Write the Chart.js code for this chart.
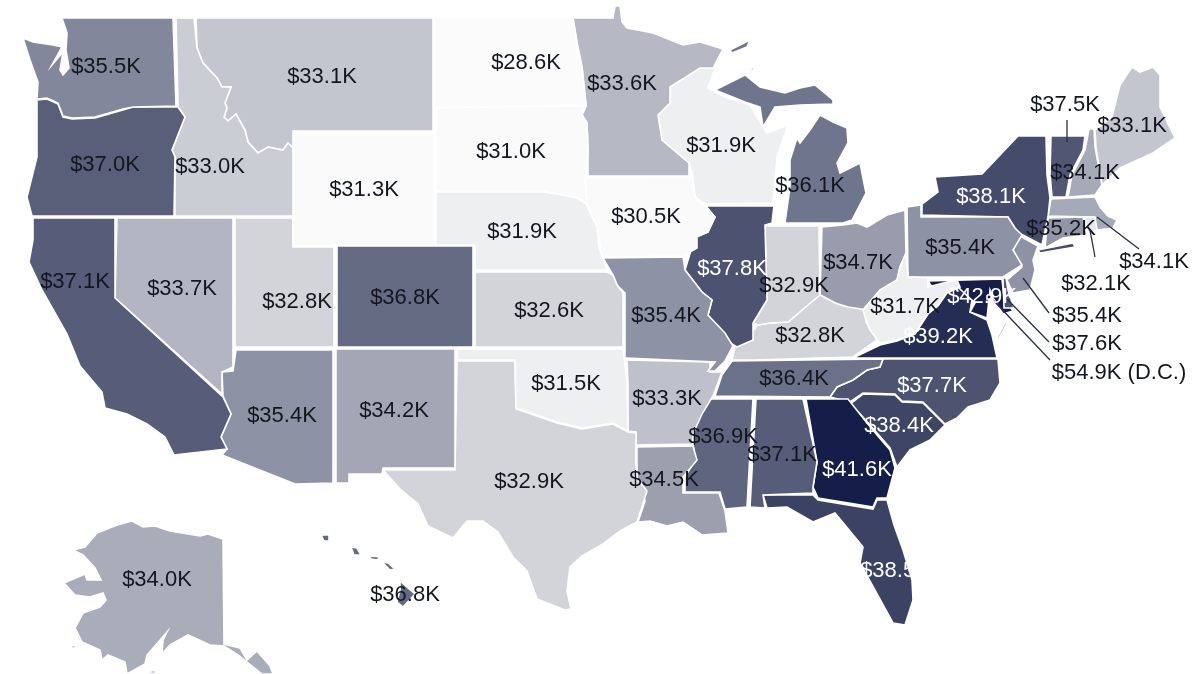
<!DOCTYPE html>
<html>
<head>
<meta charset="utf-8">
<title>Average pay by state</title>
<script src="https://cdn.jsdelivr.net/npm/chart.js@4"></script>
<style>
    html, body { margin: 0; padding: 0; background: #fff; }
    canvas { display: block; }
</style>
</head>
<body>
<canvas id="mapChart" width="1200" height="674"></canvas>
<script>
// state values, in $K
const stateCodes = ['WA','OR','CA','NV','ID','MT','WY','UT','AZ','CO','NM','ND','SD','NE','KS','OK','TX','MN','IA','MO','AR','LA','WI','IL','MI','IN','KY','TN','MS','AL','GA','FL','SC','NC','VA','WV','MD','DC','DE','PA','NJ','NY','CT','RI','MA','VT','NH','ME','OH','AK','HI'];
const stateValues = [35.5,37.0,37.1,33.7,33.0,33.1,31.3,32.8,35.4,36.8,34.2,28.6,31.0,31.9,32.6,31.5,32.9,33.6,30.5,35.4,33.3,34.5,31.9,37.8,36.1,32.9,32.8,36.4,36.9,37.1,41.6,38.5,38.4,37.7,39.2,31.7,42.9,54.9,37.6,35.4,35.4,38.1,35.2,32.1,34.1,37.5,34.1,33.1,34.7,34.0,36.8];

// colour ramp
const rampValues = [28.6,31.3,31.5,31.9,32.6,32.9,33.1,33.7,34.0,34.5,35.4,35.5,36.1,36.8,37.0,37.8,38.4,39.2,41.6,54.9];
const rampColors = ['#fbfbfb','#fafafa','#eeeff1','#eeeff1','#d2d4da','#d2d4da','#c3c6cf','#b3b6c2','#a9adba','#9b9fae','#8e92a5','#82879c','#6f758c','#656b83','#595e79','#4c526f','#3f4565','#252d54','#151d49','#101840'];

// where each label sits on the map
const labelSpots = {
    WA:[106,67], OR:[105,165], CA:[75,282], NV:[182,289], ID:[210,167], MT:[322,77], WY:[364,190], UT:[297,302], AZ:[282,416], CO:[405,298],
    NM:[394,411], ND:[526,63], SD:[511,152], NE:[522,232], KS:[549,311], OK:[566,384], TX:[529,482], MN:[622,84], IA:[646,217], MO:[666,316],
    AR:[667,399], LA:[664,480], WI:[721,146], IL:[732,269], MI:[810,186], IN:[794,286], KY:[810,336], TN:[794,379], MS:[723,437], AL:[782,455],
    GA:[857,470], FL:[895,571], SC:[899,426], NC:[932,386], VA:[938,337], WV:[905,307], MD:[982,297], DC:[1119,373], DE:[1087,344], PA:[960,248],
    NJ:[1087,316], NY:[991,197], CT:[1061,229], RI:[1096,284], MA:[1154,262], VT:[1065,105], NH:[1085,173], ME:[1132,126], OH:[858,263], AK:[157,580], HI:[405,595]
};

// leader lines from small states out to their labels
const leaders = [
    [[1067,120],[1067,142]],
    [[1090,230],[1095,257]],
    [[1097,217],[1139,249]],
    [[1023,278],[1049,313]],
    [[1007,299],[1049,342]],
    [[993,300],[1050,360]]
];

// state outlines traced in map units, a state can have several parts
const outlines = {
    WV:[[[906,253],[908,277],[928,278],[928,287],[947,282],[957,280],[960,287],[947,292],[938,305],[928,313],[915,333],[897,340],[880,343],[870,330],[865,317],[863,310],[880,290],[897,280],[900,267]]],
    DC:[[[987,295],[991,295],[991,299],[987,299]]],
    DE:[[[1003,278],[1006,278],[1008,290],[1014,308],[1004,308]]],
    MD:[[[928,281],[1002,279],[1004,298],[1013,311],[1003,314],[993,298],[990,290],[987,318],[970,312],[975,303],[960,289],[957,282],[947,285],[932,287]]],
    VA:[[[853,358],[880,345],[897,341],[915,334],[928,314],[938,306],[947,293],[960,287],[972,300],[970,312],[987,320],[992,335],[997,358]],[[998,340],[1007,323],[1005,323],[997,338]]],
    WA:[[[62,18],[173,18],[176,106],[133,107],[123,109],[95,117],[72,118],[63,116],[58,103],[47,98],[37,99],[38,82],[30,60],[23,38],[33,42],[53,45],[62,47],[52,65],[58,58],[63,52],[60,70],[63,75],[69,68],[66,50],[67,33]]],
    OR:[[[37,100],[47,99],[58,104],[63,117],[72,119],[95,118],[123,110],[133,107],[178,107],[185,117],[172,150],[175,157],[174,216],[32,216],[27,197],[37,157]]],
    CA:[[[33,218],[115,218],[115,298],[223,397],[231,414],[221,437],[227,449],[174,455],[165,437],[147,424],[127,414],[105,408],[102,392],[80,366],[67,334],[42,290],[29,262],[33,240]]],
    NV:[[[117,218],[233,218],[233,367],[222,372],[222,394],[115,298]]],
    ID:[[[176,18],[194,18],[197,48],[203,63],[217,78],[222,87],[231,87],[225,103],[227,108],[224,117],[228,121],[236,114],[245,130],[248,142],[258,153],[268,147],[283,150],[288,143],[293,148],[293,216],[175,216],[175,157],[172,150],[185,117],[178,107]]],
    MT:[[[196,18],[433,18],[433,131],[293,131],[293,148],[288,143],[283,150],[268,147],[258,153],[248,142],[245,130],[236,114],[228,121],[224,117],[227,108],[225,103],[231,87],[222,87],[217,78],[203,63],[197,48]]],
    WY:[[[293,133],[434,133],[434,245],[293,245]]],
    UT:[[[235,218],[293,218],[293,247],[334,247],[334,347],[235,347]]],
    AZ:[[[236,350],[333,350],[333,483],[295,484],[222,455],[227,449],[221,437],[231,414],[223,396],[222,372],[233,371]]],
    CO:[[[337,246],[473,246],[473,347],[337,347]]],
    NM:[[[336,349],[455,349],[455,468],[383,468],[382,474],[349,474],[349,483],[336,483]]],
    ND:[[[435,18],[573,18],[577,43],[582,67],[586,105],[435,107]]],
    SD:[[[436,108],[586,106],[582,115],[587,123],[588,150],[585,178],[587,203],[577,198],[563,195],[543,191],[436,191]]],
    NE:[[[436,192],[543,192],[563,195],[577,198],[586,204],[597,227],[599,248],[607,270],[475,270],[475,245],[436,245]]],
    KS:[[[475,272],[607,272],[613,275],[617,285],[623,293],[623,347],[475,347]]],
    OK:[[[457,349],[623,349],[627,381],[628,431],[613,423],[582,428],[557,422],[528,412],[516,408],[515,360],[457,360]]],
    TX:[[[457,361],[515,361],[516,409],[528,413],[557,423],[582,429],[613,424],[628,432],[636,433],[636,477],[647,491],[642,507],[637,522],[620,531],[603,544],[582,556],[570,567],[567,591],[571,609],[565,610],[537,599],[527,571],[513,557],[498,532],[483,521],[467,521],[453,538],[428,526],[418,504],[400,489],[383,470],[455,470]]],
    MN:[[[573,18],[613,18],[615,6],[620,6],[622,22],[627,28],[653,33],[683,45],[700,42],[723,49],[713,68],[700,68],[670,87],[670,103],[658,115],[662,140],[689,163],[689,176],[588,176],[588,150],[587,123],[582,115],[586,105],[582,67],[577,43]]],
    IA:[[[585,178],[692,177],[695,197],[705,207],[715,217],[708,232],[697,237],[697,248],[683,256],[602,257],[597,227],[587,203]]],
    MO:[[[603,258],[683,257],[685,270],[702,292],[712,300],[708,315],[725,333],[733,346],[725,361],[715,371],[708,371],[715,362],[626,358],[625,293],[617,285],[613,275]]],
    AR:[[[627,360],[710,362],[710,372],[722,372],[713,396],[702,414],[693,434],[693,444],[636,445],[636,432],[628,431],[628,384]]],
    LA:[[[637,447],[693,446],[697,460],[683,477],[683,493],[719,493],[725,511],[728,533],[702,535],[683,522],[667,526],[650,521],[638,522],[645,501],[637,477]]],
    WI:[[[670,87],[700,68],[715,68],[708,88],[725,97],[750,105],[762,125],[767,133],[788,125],[777,157],[773,203],[705,204],[695,197],[693,177],[689,163],[662,140],[658,115],[670,103]]],
    IL:[[[706,206],[774,206],[772,223],[765,225],[767,300],[753,323],[753,340],[737,347],[725,340],[708,315],[712,300],[702,292],[685,270],[695,237],[708,232],[715,217]]],
    MI:[[[715,90],[745,75],[760,87],[785,93],[800,88],[815,85],[833,100],[833,104],[800,105],[775,107],[763,127],[760,107],[745,102]],[[730,50],[750,40],[747,47],[732,53]],[[747,71],[757,65],[753,70]],[[820,115],[833,122],[847,128],[848,143],[837,163],[840,173],[860,163],[866,193],[852,220],[843,223],[785,223],[790,187],[790,160],[797,138],[800,143],[810,130]]],
    IN:[[[765,226],[819,226],[820,295],[808,305],[788,322],[770,323],[758,325],[753,323],[767,300]]],
    KY:[[[732,360],[735,347],[747,338],[758,325],[770,323],[788,322],[808,305],[820,295],[835,303],[848,307],[867,310],[866,322],[877,340],[853,357],[753,360]]],
    TN:[[[732,361],[883,359],[880,367],[867,370],[853,380],[837,387],[830,397],[715,396],[722,375]]],
    MS:[[[708,399],[753,399],[747,507],[725,509],[720,492],[685,492],[685,477],[695,460],[692,434],[697,417]]],
    AL:[[[756,399],[803,399],[817,462],[813,487],[813,493],[763,495],[765,508],[750,507]]],
    GA:[[[806,399],[848,399],[863,418],[877,435],[890,450],[895,468],[887,498],[877,498],[873,507],[818,498],[813,487],[817,462]]],
    FL:[[[763,495],[813,495],[818,500],[873,509],[877,500],[887,500],[894,525],[903,550],[912,580],[913,600],[905,625],[893,623],[860,563],[863,547],[835,513],[813,522],[787,507],[767,508]]],
    SC:[[[863,394],[895,395],[902,402],[923,403],[945,425],[930,440],[910,450],[897,467],[890,448],[877,433],[863,417],[850,404]]],
    NC:[[[883,359],[998,359],[1000,383],[990,400],[968,407],[957,418],[945,424],[923,402],[902,401],[895,394],[863,393],[850,402],[830,397],[837,387],[853,380],[867,370],[880,367]]],
    PA:[[[907,207],[921,205],[921,217],[1008,217],[1015,228],[1022,235],[1013,250],[1022,265],[1003,277],[908,277]]],
    NJ:[[[1020,236],[1038,246],[1033,260],[1035,270],[1030,290],[1013,293],[1007,280],[1022,267],[1013,250]]],
    NY:[[[922,215],[922,204],[938,192],[935,177],[982,174],[1018,136],[1046,136],[1047,175],[1050,198],[1048,217],[1042,245],[1017,232],[1008,217]],[[1038,250],[1073,243],[1075,247],[1040,253]]],
    CT:[[[1048,218],[1083,217],[1087,235],[1063,238],[1045,248]]],
    RI:[[[1085,217],[1095,217],[1097,230],[1088,235]]],
    MA:[[[1051,199],[1095,197],[1100,207],[1108,216],[1117,220],[1113,228],[1097,230],[1093,217],[1048,216]]],
    VT:[[[1051,136],[1085,136],[1083,150],[1070,175],[1066,197],[1052,197],[1050,173]]],
    NH:[[[1089,129],[1094,129],[1095,147],[1102,185],[1095,195],[1068,197],[1072,175],[1085,150]]],
    ME:[[[1095,130],[1112,117],[1120,85],[1132,67],[1140,72],[1153,67],[1160,75],[1160,107],[1175,138],[1153,153],[1120,168],[1102,185],[1096,147]]],
    OH:[[[822,227],[843,225],[857,223],[867,227],[887,215],[905,210],[906,253],[900,267],[897,280],[880,290],[863,310],[843,307],[820,295]]],
    AK:[[[132,521],[143,527],[155,526],[170,531],[200,536],[208,534],[223,539],[224,644],[240,648],[247,660],[257,651],[270,666],[273,674],[262,674],[247,662],[238,655],[224,646],[210,645],[188,635],[170,645],[162,654],[163,640],[167,632],[147,655],[145,664],[127,674],[125,662],[108,655],[102,660],[100,650],[82,642],[75,628],[83,613],[100,607],[106,600],[103,593],[90,597],[75,595],[64,583],[85,574],[87,580],[101,580],[95,568],[83,555],[73,550],[85,547],[97,533],[117,525]],[[42,607],[50,609],[55,612],[48,610]],[[68,645],[76,646],[74,649]],[[147,672],[155,670],[155,674]]],
    HI:[[[321,535],[329,535],[329,541],[324,541]],[[351,547],[357,548],[361,555],[354,555]],[[370,556],[380,557],[377,560],[371,559]],[[382,562],[388,563],[395,569],[390,570]],[[400,581],[415,594],[403,607],[397,602],[400,590]]]
};

function hexToRgb(hex) {
    return [1, 3, 5].map(i => parseInt(hex.substr(i, 2), 16));
}

function colorFor(value) {
    let i = rampValues.findIndex(v => v >= value);
    if (i <= 0) return rampColors[Math.max(i, 0)];
    const t = (value - rampValues[i - 1]) / (rampValues[i] - rampValues[i - 1]);
    const a = hexToRgb(rampColors[i - 1]);
    const b = hexToRgb(rampColors[i]);
    return 'rgb(' + a.map((c, k) => Math.round(c + (b[k] - c) * t)).join(',') + ')';
}

const datasets = [];

leaders.forEach(function(line) {
    datasets.push({
        data: line.map(p => ({ x: p[0], y: p[1] })),
        showLine: true,
        borderColor: '#2b2f45',
        borderWidth: 1.3,
        pointRadius: 0,
        fill: false
    });
});

// first dataset is painted last, so the order of the outlines matters
Object.keys(outlines).forEach(function(code) {
    const value = stateValues[stateCodes.indexOf(code)];
    outlines[code].forEach(function(part) {
        const closed = part.concat([part[0]]);
        datasets.push({
            label: code,
            data: closed.map(p => ({ x: p[0], y: p[1] })),
            showLine: true,
            tension: 0,
            fill: 'shape',
            backgroundColor: colorFor(value),
            borderColor: '#ffffff',
            borderWidth: 1.6,
            pointRadius: 0
        });
    });
});

const stateLabels = {
    id: 'stateLabels',
    afterDraw: function(chart) {
        const ctx = chart.ctx;
        const xs = chart.scales.x;
        const ys = chart.scales.y;
        ctx.save();
        ctx.font = '22px "Liberation Sans", Arial, sans-serif';
        ctx.textAlign = 'center';
        ctx.textBaseline = 'middle';
        stateCodes.forEach(function(code, i) {
            const value = stateValues[i];
            const spot = labelSpots[code];
            let text = '$' + value.toFixed(1) + 'K';
            if (code === 'DC') text += ' (D.C.)';
            ctx.fillStyle = (value >= 37.7 && code !== 'DC') ? '#ffffff' : '#14161f';
            ctx.fillText(text, xs.getPixelForValue(spot[0]), ys.getPixelForValue(spot[1]));
        });
        ctx.restore();
    }
};

new Chart(document.getElementById('mapChart').getContext('2d'), {
    type: 'scatter',
    data: { datasets: datasets },
    options: {
        responsive: false,
        animation: false,
        layout: { padding: 0 },
        plugins: { legend: { display: false }, tooltip: { enabled: false } },
        scales: {
            x: { type: 'linear', min: 0, max: 1200, display: false },
            y: { type: 'linear', min: 0, max: 674, reverse: true, display: false }
        }
    },
    plugins: [stateLabels]
});
</script>
</body>
</html>
